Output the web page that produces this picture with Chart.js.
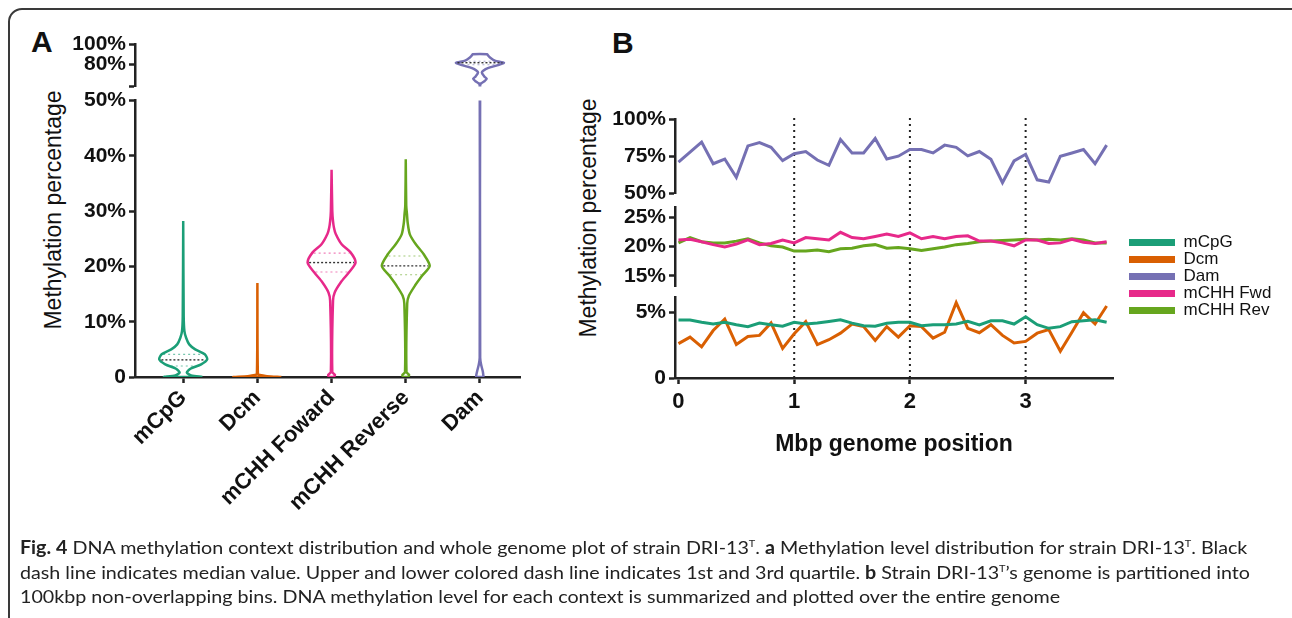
<!DOCTYPE html>
<html>
<head>
<meta charset="utf-8">
<title>DNA methylation context distribution</title>
<script src="https://cdn.jsdelivr.net/npm/chart.js@4.4.1/dist/chart.umd.min.js"></script>
<style>
  html, body { margin: 0; padding: 0; background: #fff; }
  body { width: 1292px; height: 618px; position: relative; overflow: hidden;
         font-family: "Liberation Sans", Arial, sans-serif; color: #111; }
  .frame { position: absolute; left: 8px; top: 8px; width: 1300px; height: 640px;
           border: 2px solid #3a3a3a; border-radius: 14px; }
  canvas { position: absolute; }
  .panel { position: absolute; font-weight: bold; font-size: 30px; line-height: 30px; }
  .ytitle { position: absolute; font-size: 23px; white-space: nowrap;
            transform: translate(-50%, -50%) rotate(-90deg); }
  .caption { position: absolute; left: 20px; top: 535px; font-family: Lato, "Open Sans", sans-serif;
             font-size: 18px; line-height: 24.5px; color: #222; white-space: nowrap; transform-origin: left top; }
  .caption sup { font-size: 10px; vertical-align: 7px; line-height: 0; }
</style>
</head>
<body>
<div class="frame"></div>
<div class="panel" style="left:31px; top:27px;">A</div>
<div class="panel" style="left:612px; top:28px;">B</div>
<div class="ytitle" style="left:53px; top:210px;">Methylation percentage</div>
<div class="ytitle" style="left:588px; top:218px;">Methylation percentage</div>

<canvas id="aTop"></canvas>
<canvas id="aBottom"></canvas>
<canvas id="bGrid"></canvas>
<canvas id="bTop"></canvas>
<canvas id="bMid"></canvas>
<canvas id="bBot"></canvas>
<canvas id="bLegend"></canvas>

<div class="caption"><b>Fig. 4</b> DNA methylation context distribution and whole genome plot of strain DRI-13<sup>T</sup>. <b>a</b> Methylation level distribution for strain DRI-13<sup>T</sup>. Black<br>dash line indicates median value. Upper and lower colored dash line indicates 1st and 3rd quartile. <b>b</b> Strain DRI-13<sup>T</sup>’s genome is partitioned into<br>100kbp non-overlapping bins. DNA methylation level for each context is summarized and plotted over the entire genome</div>

<script>
// ---------- Panel A: violin profiles (methylation %, relative density) ----------
const violinCats = ["mCpG", "Dcm", "mCHH Foward", "mCHH Reverse", "Dam"];
const violinColors = ["#1b9e77", "#d95f02", "#e7298a", "#66a61e", "#7570b3"];

const mcpgLevels = [0, 0.3, 0.8, 1.5, 2.3, 3.2, 4.1, 5.0, 5.9, 7.1, 8.3, 11, 28.2];
const mcpgDensity = [0.8, 0.33, 0.15, 0.3, 0.75, 1.0, 0.9, 0.5, 0.25, 0.12, 0.05, 0.02, 0];

const dcmLevels = [0, 0.15, 0.35, 0.6, 17];
const dcmDensity = [1.0, 0.4, 0.1, 0.02, 0];

const fwdLevels = [0, 0.4, 0.9, 13.8, 15.3, 17.1, 18.9, 20.7, 22.5, 24, 25.9, 27, 28.2, 30, 37.5];
const fwdDensity = [0.1, 0.14, 0.03, 0.06, 0.13, 0.38, 0.72, 1.0, 0.8, 0.42, 0.17, 0.1, 0.06, 0.03, 0];

const revLevels = [0, 0.4, 0.9, 13.3, 14.7, 16.5, 18.3, 20.1, 22.2, 24, 25.8, 27.9, 29.5, 31, 39.4];
const revDensity = [0.1, 0.14, 0.03, 0.06, 0.13, 0.38, 0.68, 1.0, 0.75, 0.42, 0.17, 0.08, 0.05, 0.02, 0];

const damLevels = [0, 1, 2.2, 3.5, 60, 61.2, 63.5, 65.7, 68, 71.8, 74, 76.4, 79.4, 81.8, 83.9, 87, 89.4, 90.3];
const damDensity = [0.15, 0.12, 0.05, 0.01, 0.01, 0.06, 0.2, 0.28, 0.18, 0.08, 0.15, 0.33, 0.75, 1.0, 0.62, 0.42, 0.33, 0.3];

// [1st quartile, median, 3rd quartile]; Dcm has none visible
const mcpgQuart = [2.0, 3.1, 4.1];
const fwdQuart = [19.0, 20.7, 22.4];
const revQuart = [18.5, 20.1, 21.9];
const damQuart = [79.8, 81.8, 83.2];

// ---------- Panel B: 100 kbp bins ----------
const binStart = [0, 0.1, 0.2, 0.3, 0.4, 0.5, 0.6, 0.7, 0.8, 0.9, 1.0, 1.1, 1.2, 1.3, 1.4, 1.5, 1.6, 1.7, 1.8, 1.9,
                  2.0, 2.1, 2.2, 2.3, 2.4, 2.5, 2.6, 2.7, 2.8, 2.9, 3.0, 3.1, 3.2, 3.3, 3.4, 3.5, 3.6, 3.7];
const mcpgTrack = [4.43, 4.43, 4.26, 4.13, 4.26, 4.08, 3.93, 4.2, 4.08, 3.96, 4.26, 4.13, 4.2, 4.33, 4.46, 4.2, 4.0, 3.96,
                   4.18, 4.26, 4.26, 4.0, 4.08, 4.08, 4.13, 4.33, 4.06, 4.38, 4.38, 4.13, 4.68, 4.08, 3.8, 3.93, 4.31, 4.38, 4.46, 4.26];
const dcmTrack = [2.63, 3.13, 2.38, 3.63, 4.51, 2.56, 3.18, 3.26, 4.21, 2.26, 3.38, 4.31, 2.56, 2.93, 3.43, 4.13, 3.93, 2.88,
                  3.93, 3.13, 4.0, 3.93, 3.05, 3.5, 5.76, 3.8, 3.46, 4.08, 3.26, 2.68, 2.8, 3.43, 3.71, 2.05, 3.5, 5.0, 4.13, 5.51];
const damTrack = [71.2, 78.0, 84.8, 70.1, 73.3, 60.9, 82.2, 84.4, 81.2, 72.2, 76.9, 78.4, 72.6, 69.0, 86.5, 77.4, 77.4, 87.2,
                  73.3, 75.2, 79.7, 79.7, 77.4, 82.7, 81.2, 75.4, 78.4, 73.1, 57.2, 72.0, 76.5, 59.2, 57.7, 75.2, 77.4, 79.7, 70.1, 82.7];
const fwdTrack = [21.1, 21.2, 20.8, 20.3, 19.9, 20.4, 21.1, 20.3, 20.5, 21.1, 20.6, 21.5, 21.3, 21.1, 22.4, 21.5, 21.3, 21.7,
                  22.1, 21.7, 22.3, 21.3, 21.7, 21.3, 21.7, 21.8, 20.9, 20.9, 20.6, 20.1, 21.1, 21.1, 20.5, 20.6, 21.2, 20.7, 20.5, 20.8];
const revTrack = [20.6, 21.5, 20.8, 20.6, 20.6, 20.9, 21.3, 20.6, 20.1, 19.9, 19.2, 19.2, 19.4, 19.1, 19.6, 19.7, 20.1, 20.3,
                  19.7, 19.8, 19.6, 19.3, 19.6, 19.9, 20.3, 20.5, 20.8, 20.9, 21.0, 21.1, 21.2, 21.1, 21.2, 21.1, 21.3, 21.1, 20.6, 20.6];
const trackNames = ["mCpG", "Dcm", "Dam", "mCHH Fwd", "mCHH Rev"];
const trackColors = ["#1b9e77", "#d95f02", "#7570b3", "#e7298a", "#66a61e"];
const dividers = [1, 2, 3];

const FONT = "'Liberation Sans', Arial, sans-serif";
const AXIS = "#222";
const HALF = 0.323; // violin half width (x units) at density 1

// place a chart so that its plot area sits exactly on the given page rectangle
function makeChart(id, area, pad, cfg) {
  const cv = document.getElementById(id);
  const w = area.w + pad.l + pad.r, h = area.h + pad.t + pad.b;
  cv.width = w; cv.height = h;
  cv.style.left = (area.x - pad.l) + "px";
  cv.style.top = (area.y - pad.t) + "px";
  cv.style.width = w + "px";
  cv.style.height = h + "px";
  const sx = cfg.options.scales.x, sy = cfg.options.scales.y;
  cfg.options.responsive = false;
  cfg.options.animation = false;
  cfg.options.devicePixelRatio = 1;
  cfg.options.plugins = { legend: { display: false }, tooltip: { enabled: false } };
  cfg.options.layout = { padding: {
    top: pad.t, right: pad.r,
    left: sy.display === false ? pad.l : 0,
    bottom: sx.display === false ? pad.b : 0 } };
  if (sy.display !== false) sy.afterFit = s => { s.width = pad.l; };
  if (sx.display !== false) sx.afterFit = s => { s.height = pad.b; };
  return new Chart(cv, cfg);
}

function axis(min, max, tickVals, fmt, size, extra) {
  return Object.assign({
    type: "linear", min, max,
    afterBuildTicks: s => { s.ticks = tickVals.map(v => ({ value: v })); },
    border: { display: true, color: AXIS, width: 2.5 },
    grid: { drawOnChartArea: false, drawTicks: true, tickLength: 6, tickWidth: 2.5, tickColor: AXIS },
    ticks: { callback: fmt, color: "#111", autoSkip: false, padding: 3,
             font: { family: FONT, size: size, weight: "bold" } }
  }, extra || {});
}
const pct = v => (v === 0 ? "0" : v + "%");

// ---------- violins ----------
function outline(center, levels, dens) {
  const right = levels.map((v, i) => ({ x: center + dens[i] * HALF, y: v }));
  const left = levels.map((v, i) => ({ x: center - dens[i] * HALF, y: v })).reverse();
  return right.concat(left, [right[0]]);
}
function widthAt(levels, dens, v) {
  for (let i = 1; i < levels.length; i++) {
    if (v <= levels[i]) {
      const t = (v - levels[i - 1]) / (levels[i] - levels[i - 1]);
      return (dens[i - 1] + t * (dens[i] - dens[i - 1])) * HALF;
    }
  }
  return 0;
}
const violins = [
  { levels: mcpgLevels, dens: mcpgDensity, quart: mcpgQuart },
  { levels: dcmLevels, dens: dcmDensity, quart: null },
  { levels: fwdLevels, dens: fwdDensity, quart: fwdQuart },
  { levels: revLevels, dens: revDensity, quart: revQuart },
  { levels: damLevels, dens: damDensity, quart: damQuart }
];

function violinDatasets() {
  const sets = [];
  violins.forEach((vl, i) => {
    const c = i + 1, col = violinColors[i];
    sets.push({ data: outline(c, vl.levels, vl.dens), showLine: true, borderColor: col,
                borderWidth: 2.5, pointRadius: 0, tension: 0.25, order: 2 });
    if (!vl.quart) return;
    vl.quart.forEach((q, k) => {
      const w = widthAt(vl.levels, vl.dens, q) - 0.02;
      sets.push({ data: [{ x: c - w, y: q }, { x: c + w, y: q }], showLine: true,
                  borderColor: k === 1 ? "#333" : col + "99", borderWidth: k === 1 ? 1.4 : 1.1,
                  borderDash: k === 1 ? [2, 2] : [2, 3], pointRadius: 0, order: 1 });
    });
  });
  return sets;
}

const catAxis = axis(0.35, 5.54, [1, 2, 3, 4, 5], v => violinCats[v - 1], 22);
catAxis.ticks.minRotation = 45;
catAxis.ticks.maxRotation = 45;
catAxis.ticks.padding = 2;

makeChart("aBottom", { x: 135, y: 100, w: 385, h: 277 }, { l: 135, r: 20, t: 15, b: 160 }, {
  type: "scatter",
  data: { datasets: violinDatasets() },
  options: { scales: { x: catAxis, y: axis(0, 50, [0, 10, 20, 30, 40, 50], pct, 21) } }
});

makeChart("aTop", { x: 135, y: 44, w: 385, h: 46 }, { l: 135, r: 20, t: 15, b: 12 }, {
  type: "scatter",
  data: { datasets: violinDatasets() },
  options: { scales: {
    x: { type: "linear", min: 0.35, max: 5.54, display: false },
    y: axis(58, 100, [58, 80, 100], v => (v === 58 ? "" : v + "%"), 21)
  } }
});

// ---------- genome tracks ----------
const track = (vals, i, order) => ({
  label: trackNames[i], data: binStart.map((x, k) => ({ x, y: vals[k] })), showLine: true,
  borderColor: trackColors[i], backgroundColor: trackColors[i], borderWidth: 3,
  pointRadius: 0, tension: 0, order
});
const hiddenX = { type: "linear", min: -0.03, max: 3.755, display: false };
const bPad = { l: 100, r: 10, t: 15, b: 12 };

makeChart("bGrid", { x: 675, y: 118, w: 438, h: 260 }, { l: 0, r: 0, t: 0, b: 0 }, {
  type: "scatter",
  data: { datasets: dividers.map(d => ({
    data: [{ x: d, y: 0 }, { x: d, y: 1 }], showLine: true, borderColor: "#222",
    borderWidth: 2, borderDash: [2, 4], pointRadius: 0 })) },
  options: { scales: { x: hiddenX, y: { type: "linear", min: 0, max: 1, display: false } } }
});

makeChart("bTop", { x: 675, y: 119, w: 438, h: 78 }, bPad, {
  type: "scatter",
  data: { datasets: [track(damTrack, 2, 0)] },
  options: { scales: { x: Object.assign({}, hiddenX), y: axis(50, 100, [50, 75, 100], pct, 21) } }
});

makeChart("bMid", { x: 675, y: 207, w: 438, h: 83 }, bPad, {
  type: "scatter",
  data: { datasets: [track(fwdTrack, 3, 0), track(revTrack, 4, 1)] },
  options: { scales: { x: Object.assign({}, hiddenX), y: axis(13.2, 26.6, [15, 20, 25], pct, 21) } }
});

const genomeAxis = axis(-0.03, 3.755, [0, 1, 2, 3], v => String(v), 22, {
  title: { display: true, text: "Mbp genome position", color: "#111", padding: { top: 4, bottom: 0 },
           font: { family: FONT, size: 23, weight: "bold" } }
});
genomeAxis.ticks.padding = 5;

makeChart("bBot", { x: 675, y: 297, w: 438, h: 81 }, { l: 100, r: 10, t: 15, b: 80 }, {
  type: "scatter",
  data: { datasets: [track(mcpgTrack, 0, 0), track(dcmTrack, 1, 1)] },
  options: { scales: { x: genomeAxis, y: axis(0, 6.15, [0, 5], pct, 21) } }
});

// legend-only chart
(function () {
  const cv = document.getElementById("bLegend");
  cv.width = 163; cv.height = 100;
  cv.style.left = "1129px"; cv.style.top = "234px";
  cv.style.width = "163px"; cv.style.height = "100px";
  new Chart(cv, {
    type: "scatter",
    data: { datasets: trackNames.map((n, i) => ({
      label: n, data: [], backgroundColor: trackColors[i], borderColor: trackColors[i], borderWidth: 0 })) },
    options: {
      responsive: false, animation: false, devicePixelRatio: 1,
      layout: { padding: 0 },
      scales: { x: { display: false }, y: { display: false } },
      plugins: {
        tooltip: { enabled: false },
        legend: { display: true, position: "left", align: "start", maxWidth: 163,
                  labels: { boxWidth: 46, boxHeight: 7, padding: 0, color: "#111",
                            font: { family: FONT, size: 17 } } }
      }
    }
  });
})();

// squeeze the caption to the printed line length
const cap = document.querySelector(".caption");
cap.style.transform = "scaleX(" + (1230 / cap.getBoundingClientRect().width) + ")";
</script>
</body>
</html>
